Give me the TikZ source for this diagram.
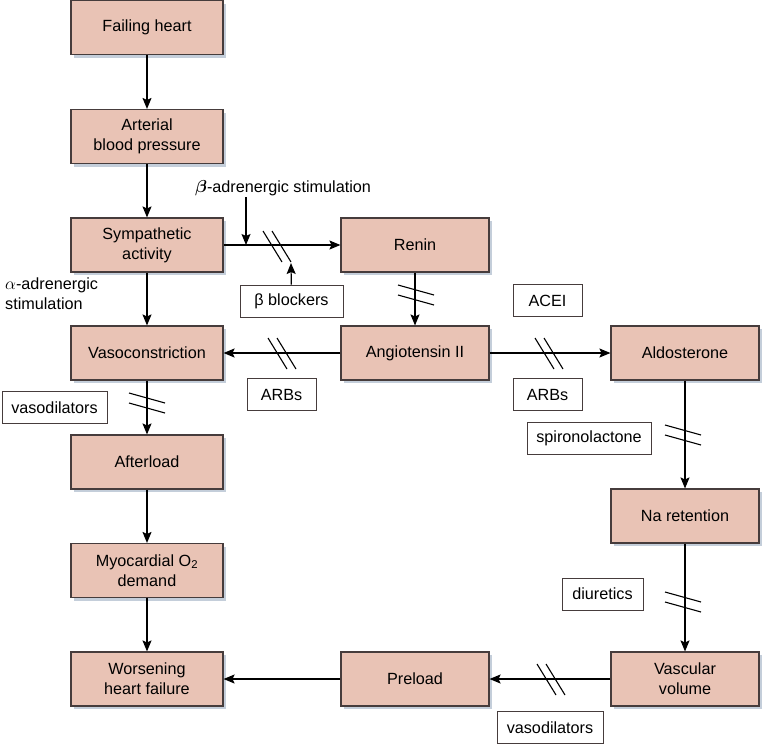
\documentclass[tikz,border=0pt]{standalone}
\usepackage{amsmath}
\usepackage{bm}
\usepackage{fontspec}
\setmainfont{Liberation Sans}
\usetikzlibrary{arrows.meta,shadows}
\definecolor{boxfill}{RGB}{233,195,181}
\definecolor{boxline}{RGB}{70,60,60}
\definecolor{shadowc}{RGB}{196,206,218}
\tikzset{
  box/.style={draw=boxline, line width=1.1pt, fill=boxfill, minimum height=54, inner sep=0pt,
    align=center, font=\fontsize{16.2}{20}\selectfont,
    drop shadow={shadow xshift=3pt, shadow yshift=-3pt, fill=shadowc, opacity=1}},
  lbox/.style={box, minimum width=152},
  mbox/.style={box, minimum width=148},
  tag/.style={draw=boxline, line width=0.9pt, fill=white, minimum height=32, inner sep=0pt,
    align=center, font=\fontsize{16.2}{20}\selectfont},
  plain/.style={inner sep=0pt, font=\fontsize{16.2}{20}\selectfont},
  arr/.style={line width=1.2pt, -{Stealth[length=11pt,width=9pt,inset=2pt]}},
  hl/.style={line width=1.1pt},
  hashh/.pic={\draw[hl] (-14,-15) -- (5,16); \draw[hl] (-5,-15) -- (14,16);},
  hashv/.pic={\draw[hl] (-18,-9) -- (18,1); \draw[hl] (-18,1) -- (18,11);},
}
\begin{document}
\begin{tikzpicture}[x=1pt,y=-1pt]
\useasboundingbox (0,0) rectangle (762,745);
% left column
\node[lbox] (fail) at (147,27.5) {Failing heart};
\node[lbox] (abp)  at (147,136.5) {Arterial\\blood pressure};
\node[lbox] (symp) at (147,245) {Sympathetic\\activity};
\node[lbox] (vaso) at (147,353) {Vasoconstriction};
\node[lbox] (after) at (147,462) {Afterload};
\node[lbox] (myo) at (147,570.5) {Myocardial O\textsubscript{2}\\demand};
\node[lbox] (worse) at (147,679) {Worsening\\heart failure};
% middle column
\node[mbox] (renin) at (415,245) {Renin};
\node[mbox] (ang) at (415,353) {Angiotensin II};
\node[mbox] (pre) at (415,679) {Preload};
% right column
\node[mbox] (ald) at (685,353) {Aldosterone};
\node[mbox] (na) at (685,516) {Na retention};
\node[mbox] (vv) at (685,679) {Vascular\\volume};
% tags
\node[tag, minimum width=103] (bb) at (291.5,301) {β blockers};
\node[tag, minimum width=69] (arb1) at (281.5,394.5) {ARBs};
\node[tag, minimum width=105] (vd1) at (54.5,407.5) {vasodilators};
\node[tag, minimum width=69] (acei) at (547.5,300.5) {ACEI};
\node[tag, minimum width=69] (arb2) at (547.5,394.5) {ARBs};
\node[tag, minimum width=124] (spiro) at (589,438) {spironolactone};
\node[tag, minimum width=81] (diur) at (602.5,594) {diuretics};
\node[tag, minimum width=106] (vd2) at (550,727.5) {vasodilators};
% free labels
\node[plain] (betal) at (283,188) {$\bm{\beta}$-adrenergic stimulation};
\node[plain, align=left, anchor=north west] (alphal) at (5,278) {$\alpha$-adrenergic\\stimulation};
% connectors
\draw[arr] (fail) -- (abp);
\draw[arr] (abp) -- (symp);
\draw[arr] (symp) -- (renin);
\coordinate (bstart) at (246,197);
\coordinate (bjoin) at (246,245);
\draw[arr] (bstart) -- (bjoin);
\coordinate (bbtip) at (291,263);
\draw[arr] (bb) -- (bbtip);
\pic at (277,246) {hashh};
\draw[arr] (symp) -- (vaso);
\draw[arr] (renin) -- (ang);
\pic at (416,294) {hashv};
\draw[arr] (ang) -- (vaso);
\pic at (282,353) {hashh};
\draw[arr] (ang) -- (ald);
\pic at (549,353) {hashh};
\draw[arr] (vaso) -- (after);
\pic at (147,402) {hashv};
\draw[arr] (after) -- (myo);
\draw[arr] (myo) -- (worse);
\draw[arr] (ald) -- (na);
\pic at (683,434) {hashv};
\draw[arr] (na) -- (vv);
\pic at (683,601) {hashv};
\draw[arr] (vv) -- (pre);
\pic at (551,679) {hashh};
\draw[arr] (pre) -- (worse);
\end{tikzpicture}
\end{document}
